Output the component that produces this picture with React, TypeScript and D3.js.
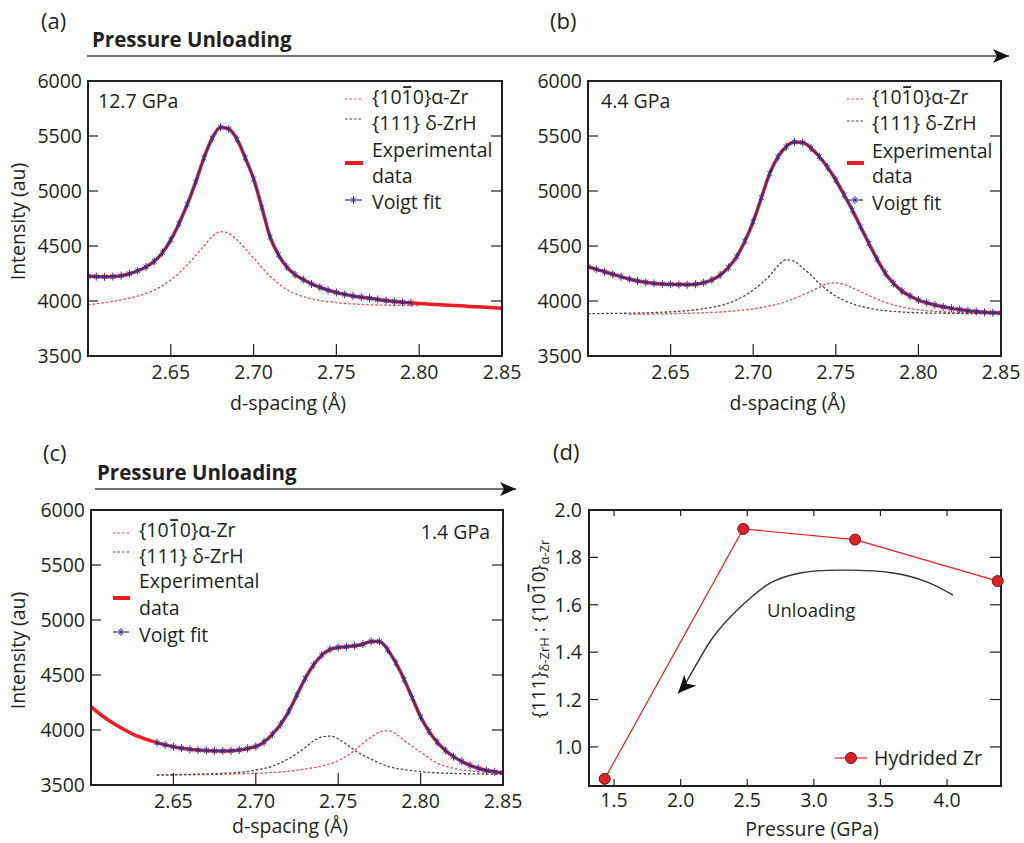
import React, { useLayoutEffect, useRef, useState } from "react";
import * as d3 from "d3";

// ---------- data ----------
const D_START = 2.6;
const D_STEP = 0.005;

// Panel (a) 12.7 GPa: experimental intensity sampled every 0.005 Å from 2.600 Å
const expA = [
  4225, 4222, 4220, 4222, 4230, 4248, 4275, 4310, 4360, 4440,
  4555, 4705, 4880, 5080, 5300, 5480, 5580, 5565, 5470, 5300,
  5110, 4850, 4580, 4420, 4310, 4240, 4195, 4155, 4125, 4098,
  4077, 4060, 4046, 4035, 4025, 4014, 4004, 3996, 3989, 3983,
  3978, 3973, 3968, 3964, 3960, 3956, 3951, 3947, 3943, 3939, 3935,
];
const fitRangeA = [2.6, 2.795];
const alphaA_d = [2.6, 2.61, 2.62, 2.63, 2.64, 2.65, 2.66, 2.67, 2.675, 2.68, 2.685, 2.69, 2.7, 2.71, 2.72, 2.73, 2.74, 2.75, 2.76, 2.77, 2.78, 2.79, 2.8];
const alphaA_i = [3965, 3985, 4010, 4045, 4100, 4190, 4330, 4500, 4585, 4630, 4615, 4555, 4390, 4225, 4105, 4040, 4005, 3985, 3973, 3966, 3962, 3960, 3958];

// Panel (b) 4.4 GPa
const expB = [
  4312, 4288, 4266, 4243, 4221, 4200, 4182, 4170, 4160, 4155,
  4152, 4150, 4148, 4152, 4166, 4192, 4236, 4305, 4403, 4545,
  4721, 4940, 5160, 5310, 5403, 5445, 5440, 5390, 5312, 5215,
  5100, 4965, 4827, 4675, 4524, 4380, 4251, 4160, 4091, 4045,
  4009, 3984, 3964, 3947, 3933, 3922, 3912, 3904, 3897, 3894, 3892,
];
const fitRangeB = [2.6, 2.85];
const alphaB_d = [2.625, 2.64, 2.65, 2.66, 2.67, 2.68, 2.69, 2.7, 2.71, 2.72, 2.73, 2.74, 2.745, 2.75, 2.755, 2.76, 2.77, 2.78, 2.79, 2.8, 2.81, 2.82, 2.83, 2.85];
const alphaB_i = [3880, 3882, 3885, 3888, 3893, 3900, 3912, 3928, 3955, 3995, 4055, 4125, 4158, 4165, 4150, 4120, 4050, 3988, 3945, 3920, 3906, 3898, 3894, 3890];
const deltaB_d = [2.6, 2.62, 2.64, 2.65, 2.66, 2.67, 2.68, 2.69, 2.7, 2.71, 2.715, 2.72, 2.725, 2.73, 2.735, 2.74, 2.75, 2.76, 2.77, 2.78, 2.79, 2.8, 2.82, 2.85];
const deltaB_i = [3885, 3888, 3895, 3902, 3912, 3930, 3958, 4010, 4100, 4230, 4320, 4375, 4360, 4300, 4235, 4160, 4045, 3975, 3935, 3912, 3900, 3893, 3888, 3885];

// Panel (c) 1.4 GPa
const expC = [
  4212, 4150, 4095, 4048, 4005, 3965, 3935, 3908, 3885, 3865,
  3848, 3835, 3825, 3818, 3813, 3810, 3809, 3811, 3818, 3832,
  3850, 3890, 3960, 4050, 4170, 4320, 4470, 4590, 4680, 4733,
  4750, 4757, 4765, 4780, 4805, 4805, 4730, 4610, 4460, 4290,
  4120, 3990, 3890, 3815, 3758, 3715, 3678, 3652, 3632, 3620, 3612,
];
const fitRangeC = [2.64, 2.85];
const alphaC_d = [2.64, 2.66, 2.68, 2.7, 2.72, 2.73, 2.74, 2.75, 2.76, 2.765, 2.77, 2.775, 2.78, 2.785, 2.79, 2.8, 2.81, 2.82, 2.83, 2.85];
const alphaC_i = [3590, 3593, 3598, 3606, 3625, 3645, 3672, 3721, 3815, 3880, 3935, 3980, 3994, 3965, 3905, 3800, 3700, 3652, 3628, 3612];
const deltaC_d = [2.64, 2.66, 2.68, 2.69, 2.7, 2.71, 2.72, 2.73, 2.735, 2.74, 2.745, 2.75, 2.755, 2.76, 2.77, 2.78, 2.79, 2.8, 2.82, 2.85];
const deltaC_i = [3591, 3597, 3606, 3615, 3635, 3670, 3740, 3840, 3900, 3935, 3945, 3920, 3870, 3815, 3735, 3670, 3640, 3622, 3605, 3598];

// Panel (d)
const pressure = [1.43, 2.47, 3.31, 4.38];
const ratio = [0.865, 1.92, 1.875, 1.7];

const intensityTicks = [3500, 4000, 4500, 5000, 5500, 6000];
const dTicks = [2.65, 2.7, 2.75, 2.8, 2.85];
const pressureTicks = [1.5, 2.0, 2.5, 3.0, 3.5, 4.0];
const ratioTicks = [1.0, 1.2, 1.4, 1.6, 1.8, 2.0];

// annotation arrow path in (d), data coordinates
const unloadArrowP = [4.045, 3.847, 3.594, 3.196, 2.896, 2.671, 2.423, 2.243, 2.123, 2.018, 1.98];
const unloadArrowR = [1.641, 1.697, 1.734, 1.746, 1.734, 1.691, 1.577, 1.463, 1.353, 1.252, 1.226];

// ---------- style ----------
const FONT = "'Open Sans', 'Noto Sans', sans-serif";
const INK = "#231f20";
const RED = "#ed1c24";
const BLUE = "#2e3192";
const FS = 19.5;

type Box = { left: number; right: number; top: number; bottom: number };

// Text with an overbar drawn above one character (measured after layout)
function useBar(ref: React.RefObject<SVGTextElement | null>, charIndex: number) {
  const [bar, setBar] = useState<{ x1: number; x2: number } | null>(null);
  useLayoutEffect(() => {
    const el = ref.current;
    if (!el) return;
    try {
      const e = el.getExtentOfChar(charIndex);
      setBar({ x1: e.x + 1.6, x2: e.x + e.width - 1.6 });
    } catch (err) {
      /* ignore */
    }
  }, []);
  return bar;
}

function AlphaLabel({ x, y }: { x: number; y: number }) {
  const ref = useRef<SVGTextElement>(null);
  const bar = useBar(ref, 3);
  return (
    <g>
      <text ref={ref} x={x} y={y} fontFamily={FONT} fontSize={FS} fill={INK}>
        {"{1010}α-Zr"}
      </text>
      {bar && <line x1={bar.x1} x2={bar.x2} y1={y - 0.87 * FS} y2={y - 0.87 * FS} stroke={INK} strokeWidth={1.8} />}
    </g>
  );
}

function RatioLabel() {
  const ref = useRef<SVGTextElement>(null);
  const bar = useBar(ref, 16);
  return (
    <g transform="translate(545,629) rotate(-90)">
      <text ref={ref} x={0} y={0} textAnchor="middle" fontFamily={FONT} fontSize={19} fill={INK}>
        {"{111}"}
        <tspan fontSize={13} dy={4}>δ-ZrH</tspan>
        <tspan dy={-4}>{" : {1010}"}</tspan>
        <tspan fontSize={13} dy={4}>α-Zr</tspan>
      </text>
      {bar && <line x1={bar.x1} x2={bar.x2} y1={-0.87 * 19} y2={-0.87 * 19} stroke={INK} strokeWidth={1.8} />}
    </g>
  );
}

function markerPath(cx: number, cy: number) {
  return `M${cx},${cy - 4}v8M${cx - 2.4},${cy - 2.4}l4.8,4.8M${cx - 2.4},${cy + 2.4}l4.8,-4.8`;
}

type SpecProps = {
  id: string;
  box: Box;
  exp: number[];
  fitRange: number[];
  alphaD: number[];
  alphaI: number[];
  deltaD?: number[];
  deltaI?: number[];
  legend: { sx: number; sw: number; tx: number; rows: number[]; sy: number[] };
  plabel: { x: number; y: number; anchor: string; text: string };
  xlabelY: number;
  ylabel: boolean;
};

function Spectrum(p: SpecProps) {
  const { box } = p;
  const x = d3.scaleLinear().domain([2.6, 2.85]).range([box.left, box.right]);
  const y = d3.scaleLinear().domain([3500, 6000]).range([box.bottom, box.top]);
  const pts: [number, number][] = p.exp.map((v, i) => [D_START + i * D_STEP, v]);
  const fitPts = pts.filter((q) => q[0] >= p.fitRange[0] - 1e-6 && q[0] <= p.fitRange[1] + 1e-6);
  const line = d3
    .line<[number, number]>()
    .x((d) => x(d[0]))
    .y((d) => y(d[1]))
    .curve(d3.curveMonotoneX);
  const alphaPts: [number, number][] = p.alphaD.map((d, i) => [d, p.alphaI[i]]);
  const deltaPts: [number, number][] | null = p.deltaD ? p.deltaD.map((d, i) => [d, p.deltaI![i]]) : null;
  const lg = p.legend;
  const midX = (box.left + box.right) / 2;
  return (
    <g>
      <defs>
        <clipPath id={p.id}>
          <rect x={box.left} y={box.top} width={box.right - box.left} height={box.bottom - box.top} />
        </clipPath>
      </defs>
      <g clipPath={`url(#${p.id})`}>
        <path d={line(pts) || ""} fill="none" stroke={RED} strokeWidth={3.5} />
        <path d={line(alphaPts) || ""} fill="none" stroke="#f04a4a" strokeWidth={1.3} strokeDasharray="2.5,2" />
        {deltaPts && <path d={line(deltaPts) || ""} fill="none" stroke="#444" strokeWidth={1.3} strokeDasharray="2.5,2" />}
        <path d={line(fitPts) || ""} fill="none" stroke={BLUE} strokeWidth={1.5} />
        {fitPts.map((q, i) => (
          <path key={i} d={markerPath(x(q[0]), y(q[1]))} stroke={BLUE} strokeWidth={1} fill="none" />
        ))}
      </g>
      {/* ticks */}
      {intensityTicks.slice(1, -1).map((t) => (
        <g key={t}>
          <line x1={box.left} x2={box.left + 10} y1={y(t)} y2={y(t)} stroke={INK} strokeWidth={1.2} />
          <line x1={box.right} x2={box.right - 11} y1={y(t)} y2={y(t)} stroke={INK} strokeWidth={1.2} />
        </g>
      ))}
      {dTicks.slice(0, -1).map((t) => (
        <line key={t} x1={x(t)} x2={x(t)} y1={box.bottom} y2={box.bottom - 12} stroke={INK} strokeWidth={1.2} />
      ))}
      <rect x={box.left} y={box.top} width={box.right - box.left} height={box.bottom - box.top} fill="none" stroke={INK} strokeWidth={2} />
      {intensityTicks.map((t) => (
        <text key={t} x={box.left - 6} y={y(t)} dy="0.36em" textAnchor="end" fontFamily={FONT} fontSize={FS} fill={INK}>
          {t}
        </text>
      ))}
      {dTicks.map((t) => (
        <text key={t} x={x(t)} y={box.bottom + 23} textAnchor="middle" fontFamily={FONT} fontSize={FS} fill={INK}>
          {d3.format(".2f")(t)}
        </text>
      ))}
      <text x={midX - 7} y={p.xlabelY} textAnchor="middle" fontFamily={FONT} fontSize={FS} fill={INK}>
        d-spacing (Å)
      </text>
      {p.ylabel && (
        <text transform={`translate(25,${(box.top + box.bottom) / 2 + 3}) rotate(-90)`} textAnchor="middle" fontFamily={FONT} fontSize={FS} fill={INK}>
          Intensity (au)
        </text>
      )}
      <text x={p.plabel.x} y={p.plabel.y} textAnchor={p.plabel.anchor as any} fontFamily={FONT} fontSize={FS} fill={INK}>
        {p.plabel.text}
      </text>
      {/* legend */}
      <line x1={lg.sx} x2={lg.sx + lg.sw} y1={lg.sy[0]} y2={lg.sy[0]} stroke="#f04a4a" strokeWidth={1.2} strokeDasharray="2.5,2" />
      <line x1={lg.sx} x2={lg.sx + lg.sw} y1={lg.sy[1]} y2={lg.sy[1]} stroke="#444" strokeWidth={1.2} strokeDasharray="2.5,2" />
      <line x1={lg.sx} x2={lg.sx + lg.sw + 1} y1={lg.sy[2]} y2={lg.sy[2]} stroke={RED} strokeWidth={4} />
      <line x1={lg.sx} x2={lg.sx + lg.sw} y1={lg.sy[3]} y2={lg.sy[3]} stroke={BLUE} strokeWidth={1.2} />
      <path d={markerPath(lg.sx + lg.sw / 2, lg.sy[3])} stroke={BLUE} strokeWidth={1} fill="none" />
      <AlphaLabel x={lg.tx} y={lg.rows[0]} />
      <text x={lg.tx} y={lg.rows[1]} fontFamily={FONT} fontSize={FS} fill={INK}>
        {"{111} δ-ZrH"}
      </text>
      <text x={lg.tx} y={lg.rows[2]} fontFamily={FONT} fontSize={FS} fill={INK}>
        Experimental
      </text>
      <text x={lg.tx} y={lg.rows[3]} fontFamily={FONT} fontSize={FS} fill={INK}>
        data
      </text>
      <text x={lg.tx} y={lg.rows[4]} fontFamily={FONT} fontSize={FS} fill={INK}>
        Voigt fit
      </text>
    </g>
  );
}

function RatioPanel() {
  const box: Box = { left: 589, right: 1001, top: 510, bottom: 786 };
  const x = d3.scaleLinear().domain([1.312, 4.405]).range([box.left, box.right]);
  const y = d3.scaleLinear().domain([0.835, 2.0]).range([box.bottom, box.top]);
  const pts: [number, number][] = pressure.map((p, i) => [p, ratio[i]]);
  const line = d3
    .line<[number, number]>()
    .x((d) => x(d[0]))
    .y((d) => y(d[1]));
  const arrowPts: [number, number][] = unloadArrowP.map((p, i) => [p, unloadArrowR[i]]);
  const curve = d3
    .line<[number, number]>()
    .x((d) => x(d[0]))
    .y((d) => y(d[1]))
    .curve(d3.curveCatmullRom.alpha(0.5));
  return (
    <g>
      {ratioTicks.slice(0, -1).map((t) => (
        <g key={t}>
          <line x1={box.left} x2={box.left + 9} y1={y(t)} y2={y(t)} stroke={INK} strokeWidth={1.2} />
          <line x1={box.right} x2={box.right - 11} y1={y(t)} y2={y(t)} stroke={INK} strokeWidth={1.2} />
        </g>
      ))}
      {pressureTicks.map((t) => (
        <g key={t}>
          <line x1={x(t)} x2={x(t)} y1={box.bottom} y2={box.bottom - 7} stroke={INK} strokeWidth={1.2} />
          <line x1={x(t)} x2={x(t)} y1={box.top} y2={box.top + 6} stroke={INK} strokeWidth={1.2} />
        </g>
      ))}
      <rect x={box.left} y={box.top} width={box.right - box.left} height={box.bottom - box.top} fill="none" stroke={INK} strokeWidth={2} />
      {ratioTicks.map((t) => (
        <text key={t} x={box.left - 7} y={y(t)} dy="0.36em" textAnchor="end" fontFamily={FONT} fontSize={FS} fill={INK}>
          {d3.format(".1f")(t)}
        </text>
      ))}
      {pressureTicks.map((t) => (
        <text key={t} x={x(t)} y={box.bottom + 21} textAnchor="middle" fontFamily={FONT} fontSize={FS} fill={INK}>
          {d3.format(".1f")(t)}
        </text>
      ))}
      <text x={812} y={836} textAnchor="middle" fontFamily={FONT} fontSize={FS} fill={INK}>
        Pressure (GPa)
      </text>
      <RatioLabel />
      <path d={line(pts) || ""} fill="none" stroke={RED} strokeWidth={1.2} />
      {pts.map((q, i) => (
        <circle key={i} cx={x(q[0])} cy={y(q[1])} r={5.5} fill="#e21f26" stroke="#5a1a1a" strokeWidth={1} />
      ))}
      <path d={curve(arrowPts) || ""} fill="none" stroke="#333" strokeWidth={1.4} markerEnd="url(#stealthBig)" />
      <text x={767} y={617} fontFamily={FONT} fontSize={18.5} fill={INK}>
        Unloading
      </text>
      <line x1={835} x2={867} y1={758} y2={758} stroke={RED} strokeWidth={1.2} />
      <circle cx={851} cy={758} r={5.5} fill="#e21f26" stroke="#5a1a1a" strokeWidth={1} />
      <text x={874} y={765} fontFamily={FONT} fontSize={FS} fill={INK}>
        Hydrided Zr
      </text>
    </g>
  );
}

export default function App() {
  return (
    <svg width={1024} height={843} style={{ position: "absolute", left: 0, top: 0, background: "#fff" }}>
      <defs>
        <marker id="stealth" viewBox="0 0 16 14" refX={16} refY={7} markerWidth={16} markerHeight={14} markerUnits="userSpaceOnUse" orient="auto">
          <path d="M0,0 L16,7 L0,14 L4,7 Z" fill="#111" />
        </marker>
        <marker id="stealthBig" viewBox="0 0 18 16" refX={18} refY={8} markerWidth={18} markerHeight={16} markerUnits="userSpaceOnUse" orient="auto">
          <path d="M0,0 L18,8 L0,16 L5,8 Z" fill="#111" />
        </marker>
      </defs>
      <rect x={0} y={0} width={1024} height={843} fill="#fff" />
      {/* panel letters */}
      <text x={41} y={29} fontFamily={FONT} fontSize={22} fill={INK}>(a)</text>
      <text x={550} y={29} fontFamily={FONT} fontSize={22} fill={INK}>(b)</text>
      <text x={43} y={461} fontFamily={FONT} fontSize={22} fill={INK}>(c)</text>
      <text x={553} y={460} fontFamily={FONT} fontSize={22} fill={INK}>(d)</text>
      {/* pressure unloading arrows */}
      <text x={92} y={47} fontFamily={FONT} fontSize={20.5} fontWeight="bold" fill={INK}>Pressure Unloading</text>
      <line x1={87} x2={1009} y1={56} y2={56} stroke="#444" strokeWidth={1.4} markerEnd="url(#stealth)" />
      <text x={97} y={480} fontFamily={FONT} fontSize={20.5} fontWeight="bold" fill={INK}>Pressure Unloading</text>
      <line x1={95} x2={516} y1={489} y2={489} stroke="#444" strokeWidth={1.4} markerEnd="url(#stealth)" />
      <Spectrum
        id="clipA"
        box={{ left: 88, right: 502, top: 81, bottom: 356 }}
        exp={expA}
        fitRange={fitRangeA}
        alphaD={alphaA_d}
        alphaI={alphaA_i}
        legend={{ sx: 345, sw: 17, tx: 372, rows: [104, 130, 157, 183, 209], sy: [99, 119, 163, 200] }}
        plabel={{ x: 98, y: 108, anchor: "start", text: "12.7 GPa" }}
        xlabelY={410}
        ylabel={true}
      />
      <Spectrum
        id="clipB"
        box={{ left: 588, right: 1001, top: 81, bottom: 356 }}
        exp={expB}
        fitRange={fitRangeB}
        alphaD={alphaB_d}
        alphaI={alphaB_i}
        deltaD={deltaB_d}
        deltaI={deltaB_i}
        legend={{ sx: 847, sw: 16, tx: 872, rows: [104, 130, 158, 183, 210], sy: [99, 121, 163, 200] }}
        plabel={{ x: 601, y: 108, anchor: "start", text: "4.4 GPa" }}
        xlabelY={410}
        ylabel={false}
      />
      <Spectrum
        id="clipC"
        box={{ left: 91, right: 503, top: 510, bottom: 785 }}
        exp={expC}
        fitRange={fitRangeC}
        alphaD={alphaC_d}
        alphaI={alphaC_i}
        deltaD={deltaC_d}
        deltaI={deltaC_i}
        legend={{ sx: 113, sw: 16, tx: 139, rows: [537, 563, 588, 615, 642], sy: [533, 552, 598, 632] }}
        plabel={{ x: 490, y: 539, anchor: "end", text: "1.4 GPa" }}
        xlabelY={833}
        ylabel={true}
      />
      <RatioPanel />
    </svg>
  );
}
